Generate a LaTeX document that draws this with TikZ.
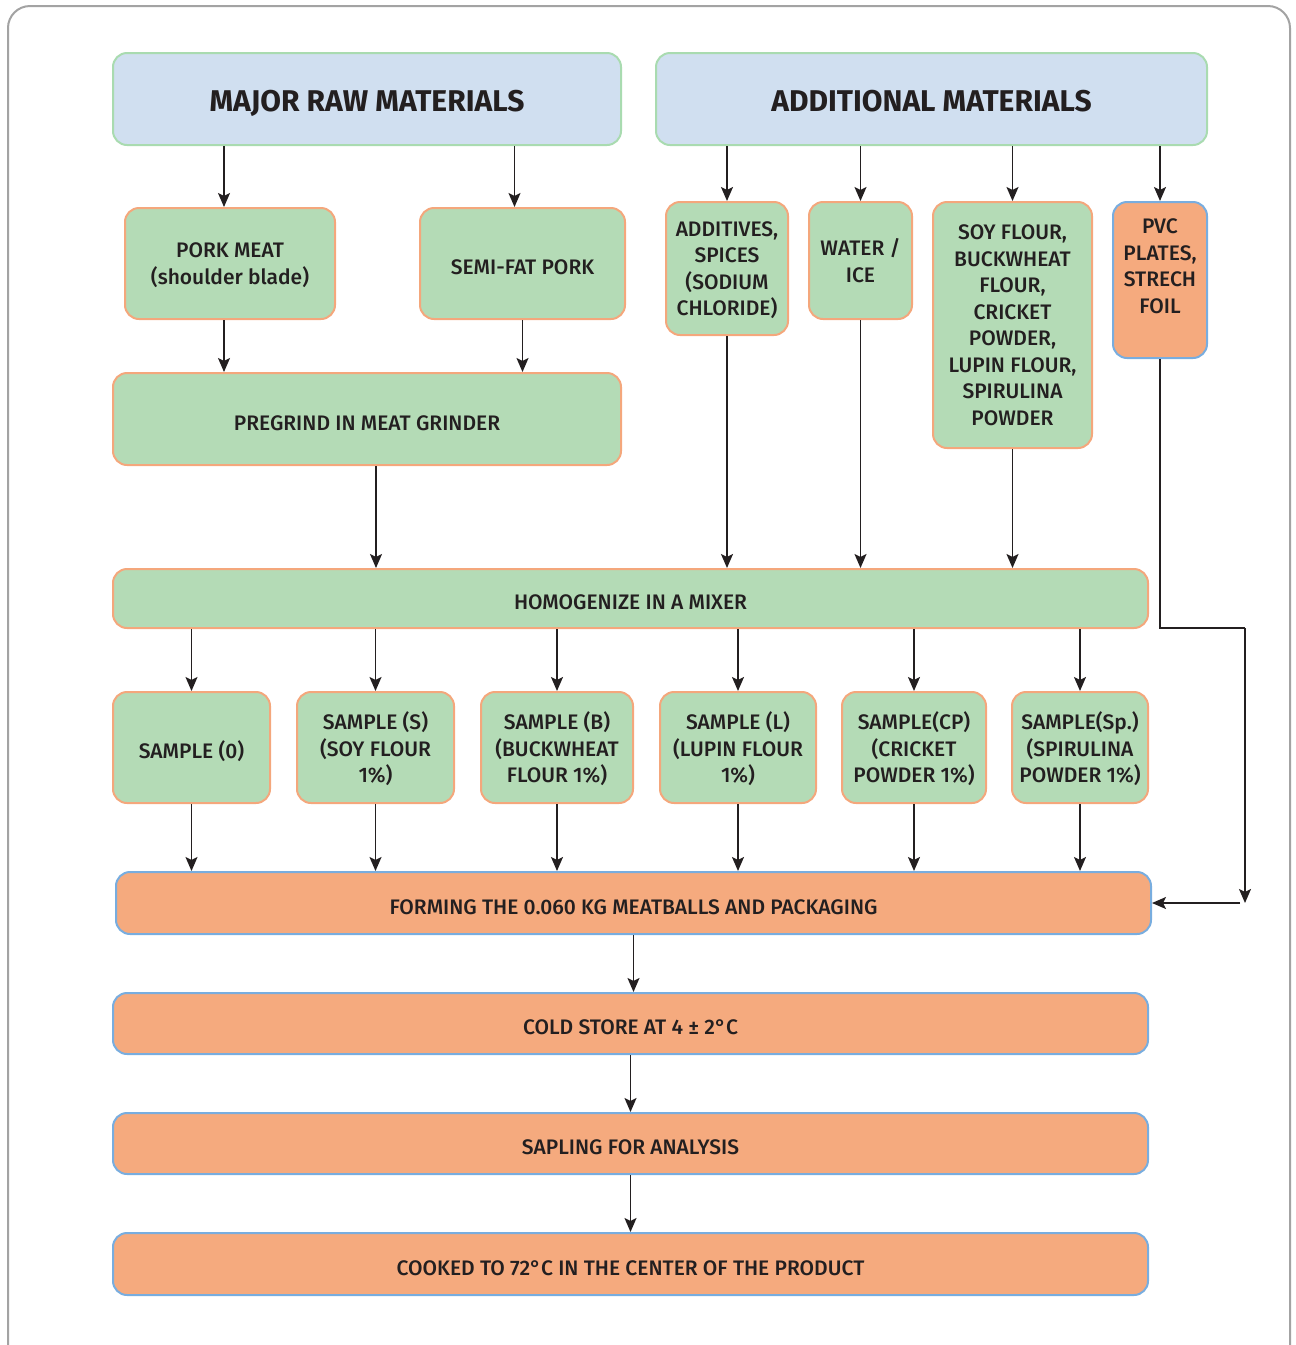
\documentclass[tikz,border=0pt]{standalone}
\usepackage{fontspec}
\setmainfont{Fira Sans}[BoldFont={Fira Sans Medium}]
\newfontfamily\headfont{Fira Sans Bold}
\usepackage{tikz}
\usetikzlibrary{arrows.meta,positioning}
\definecolor{textdark}{HTML}{231F20}
\definecolor{framegray}{HTML}{A3A3A3}
\definecolor{headfill}{HTML}{D0DFF0}
\definecolor{headline}{HTML}{A9DBB0}
\definecolor{greenfill}{HTML}{B4DBB6}
\definecolor{orangeline}{HTML}{F4A77C}
\definecolor{orangefill}{HTML}{F5AA7E}
\definecolor{blueline}{HTML}{78ADDF}

\begin{document}
\begin{tikzpicture}[x=1pt,y=1pt,
    box/.style={line width=2pt, rounded corners=14pt, align=center, inner sep=0pt,
      text=textdark, text depth=0pt, execute at begin node={\rule{0pt}{22pt}},
      font=\bfseries\fontsize{21}{26.5}\selectfont},
    headbox/.style={box, draw=headline, fill=headfill, execute at begin node={\rule{0pt}{25pt}},
      font=\headfont\fontsize{30}{34}\selectfont},
    greenbox/.style={box, draw=orangeline, fill=greenfill},
    orangebox/.style={box, draw=blueline, fill=orangefill},
    arr/.style={draw=textdark, line width=1.7pt, -{Stealth[length=14pt,width=12pt,inset=3pt]}}]
  \clip (0,0) rectangle (1296,-1345);
  \draw[framegray, line width=2pt, rounded corners=22pt] (8,-6) rectangle (1290,-1400);

  % top row
  \node[headbox, minimum width=508, minimum height=92] (major) at (367,-99) {MAJOR RAW MATERIALS};
  \node[headbox, minimum width=551, minimum height=92] (addit) at (931.5,-99) {ADDITIONAL MATERIALS};

  % raw materials and additions
  \node[greenbox, minimum width=210, minimum height=111] (pork) at (230,-263.5) {PORK MEAT\\(shoulder blade)};
  \node[greenbox, minimum width=205, minimum height=111] (semifat) at (522.5,-263.5) {SEMI-FAT PORK};
  \node[greenbox, minimum width=122, minimum height=133] (additives) at (727,-268.5) {ADDITIVES,\\SPICES\\(SODIUM\\CHLORIDE)};
  \node[greenbox, minimum width=103, minimum height=117] (water) at (860.5,-260.5) {WATER /\\ICE};
  \node[greenbox, minimum width=159, minimum height=246] (flours) at (1012.5,-325) {SOY FLOUR,\\BUCKWHEAT\\FLOUR,\\CRICKET\\POWDER,\\LUPIN FLOUR,\\SPIRULINA\\POWDER};
  \node[orangebox, minimum width=94, minimum height=156, text depth=28pt] (pvc) at (1160,-280) {PVC\\PLATES,\\STRECH\\FOIL};

  \node[greenbox, minimum width=508, minimum height=92] (pregrind) at (367,-419) {PREGRIND IN MEAT GRINDER};
  \node[greenbox, minimum width=1035, minimum height=59] (homog) at (630.5,-598.5) {HOMOGENIZE IN A MIXER};

  % samples
  \node[greenbox, minimum width=157, minimum height=111] (s0) at (191.5,-747.5) {SAMPLE (0)};
  \node[greenbox, minimum width=157, minimum height=111] (ss) at (375.5,-747.5) {SAMPLE (S)\\(SOY FLOUR\\1\%)};
  \node[greenbox, minimum width=152, minimum height=111] (sb) at (557,-747.5) {SAMPLE (B)\\(BUCKWHEAT\\FLOUR 1\%)};
  \node[greenbox, minimum width=156, minimum height=111] (sl) at (738,-747.5) {SAMPLE (L)\\(LUPIN FLOUR\\1\%)};
  \node[greenbox, minimum width=144, minimum height=111] (scp) at (914,-747.5) {SAMPLE(CP)\\(CRICKET\\POWDER 1\%)};
  \node[greenbox, minimum width=136, minimum height=111] (ssp) at (1080,-747.5) {SAMPLE(Sp.)\\(SPIRULINA\\POWDER 1\%)};

  % final steps
  \node[orangebox, minimum width=1035, minimum height=62] (forming) at (633.5,-903) {FORMING THE 0.060 KG MEATBALLS AND PACKAGING};
  \node[orangebox, minimum width=1035, minimum height=61] (cold) at (630.5,-1023.5) {COLD STORE AT 4 ± 2°C};
  \node[orangebox, minimum width=1035, minimum height=61] (sapling) at (630.5,-1143.5) {SAPLING FOR ANALYSIS};
  \node[orangebox, minimum width=1035, minimum height=62] (cooked) at (630.5,-1264) {COOKED TO 72°C IN THE CENTER OF THE PRODUCT};

  \coordinate (bend) at (1245,-628);
  \coordinate (drop) at (1245,-903);

  % connectors
  \draw[arr] ([xshift=-6pt]pork.north |- major.south) -- ([xshift=-6pt]pork.north);
  \draw[arr] ([xshift=-8pt]semifat.north |- major.south) -- ([xshift=-8pt]semifat.north);
  \draw[arr] (additives.north |- addit.south) -- (additives.north);
  \draw[arr] (water.north |- addit.south) -- (water.north);
  \draw[arr] (flours.north |- addit.south) -- (flours.north);
  \draw[arr] (pvc.north |- addit.south) -- (pvc.north);

  \draw[arr] ([xshift=-6pt]pork.south) -- ([xshift=-6pt]pork.south |- pregrind.north);
  \draw[arr] (semifat.south) -- (semifat.south |- pregrind.north);

  \draw[arr] ([xshift=9pt]pregrind.south) -- ([xshift=9pt]pregrind.south |- homog.north);
  \draw[arr] (additives.south) -- (additives.south |- homog.north);
  \draw[arr] (water.south) -- (water.south |- homog.north);
  \draw[arr] (flours.south) -- (flours.south |- homog.north);

  \foreach \s in {s0,ss,sb,sl,scp,ssp}{
    \draw[arr] (\s.north |- homog.south) -- (\s.north);
    \draw[arr] (\s.south) -- (\s.south |- forming.north);
  }

  \draw[draw=textdark, line width=1.7pt] (pvc.south) |- (bend);
  \draw[arr] (bend) -- (drop);
  \draw[arr] ([xshift=-5pt]drop) -- (forming.east);

  \draw[arr] (forming.south) -- (forming.south |- cold.north);
  \draw[arr] (cold.south) -- (cold.south |- sapling.north);
  \draw[arr] (sapling.south) -- (sapling.south |- cooked.north);
\end{tikzpicture}
\end{document}
